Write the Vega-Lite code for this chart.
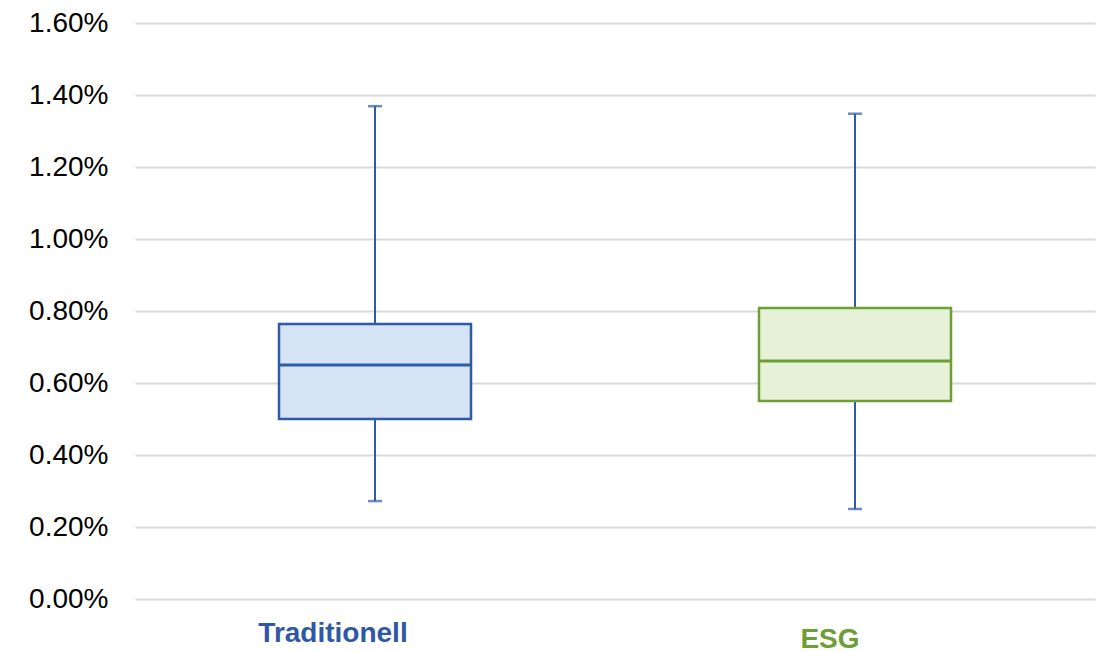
{
  "$schema": "https://vega.github.io/schema/vega-lite/v6.json",
  "autosize": {"type": "none"},
  "width": 960,
  "height": 576,
  "padding": {"left": 135, "top": 23, "right": 12, "bottom": 53},
  "background": "white",
  "config": {
    "view": {"stroke": null},
    "font": "Liberation Sans"
  },
  "data": {
    "values": [
      {"group": "Traditionell", "min": 0.00272, "q1": 0.0050, "median": 0.0065, "q3": 0.00764, "max": 0.01369},
      {"group": "ESG", "min": 0.0025, "q1": 0.0055, "median": 0.00661, "q3": 0.00808, "max": 0.01348}
    ]
  },
  "encoding": {
    "x": {
      "field": "group",
      "type": "nominal",
      "sort": ["Traditionell", "ESG"],
      "scale": {"paddingInner": 0, "paddingOuter": 0},
      "axis": {
        "title": null,
        "domain": false,
        "ticks": false,
        "labelAngle": 0,
        "labelFont": "Liberation Sans",
        "labelFontSize": 28,
        "labelFontWeight": "bold",
        "labelBaseline": "top",
        "labelColor": {"expr": "datum.value == 'ESG' ? '#6E9E34' : '#2E58A6'"},
        "labelPadding": {"expr": "datum.value == 'ESG' ? 26 : 20"},
        "labelOffset": {"expr": "datum.value == 'ESG' ? -25 : -42"}
      }
    }
  },
  "layer": [
    {
      "mark": {"type": "rule", "color": "#2E5AA8", "strokeWidth": 2},
      "encoding": {
        "y": {
          "field": "min",
          "type": "quantitative",
          "scale": {"domain": [0, 0.016], "nice": false},
          "axis": {
            "title": null,
            "format": ".2%",
            "values": [0, 0.002, 0.004, 0.006, 0.008, 0.01, 0.012, 0.014, 0.016],
            "domain": false,
            "ticks": false,
            "grid": true,
            "gridColor": "#d9d9d9",
            "gridWidth": 2,
            "labelFont": "Liberation Sans",
            "labelFontSize": 28,
            "labelColor": "#000000",
            "labelPadding": 27
          }
        },
        "y2": {"field": "max"}
      }
    },
    {
      "mark": {"type": "tick", "color": "#2E5AA8", "size": 14, "thickness": 2.5},
      "encoding": {"y": {"field": "min", "type": "quantitative"}}
    },
    {
      "mark": {"type": "tick", "color": "#2E5AA8", "size": 14, "thickness": 2.5},
      "encoding": {"y": {"field": "max", "type": "quantitative"}}
    },
    {
      "mark": {"type": "bar", "width": {"band": 0.4}, "strokeWidth": 2.5},
      "encoding": {
        "y": {"field": "q1", "type": "quantitative"},
        "y2": {"field": "q3"},
        "fill": {
          "field": "group",
          "type": "nominal",
          "scale": {"domain": ["Traditionell", "ESG"], "range": ["#D6E3F5", "#E6F2D8"]},
          "legend": null
        },
        "stroke": {
          "field": "group",
          "type": "nominal",
          "scale": {"domain": ["Traditionell", "ESG"], "range": ["#2E5AA8", "#6E9E34"]},
          "legend": null
        }
      }
    },
    {
      "mark": {"type": "tick", "size": 192, "thickness": 3, "opacity": 1},
      "encoding": {
        "y": {"field": "median", "type": "quantitative"},
        "color": {
          "field": "group",
          "type": "nominal",
          "scale": {"domain": ["Traditionell", "ESG"], "range": ["#2E5AA8", "#6E9E34"]},
          "legend": null
        }
      }
    }
  ]
}
